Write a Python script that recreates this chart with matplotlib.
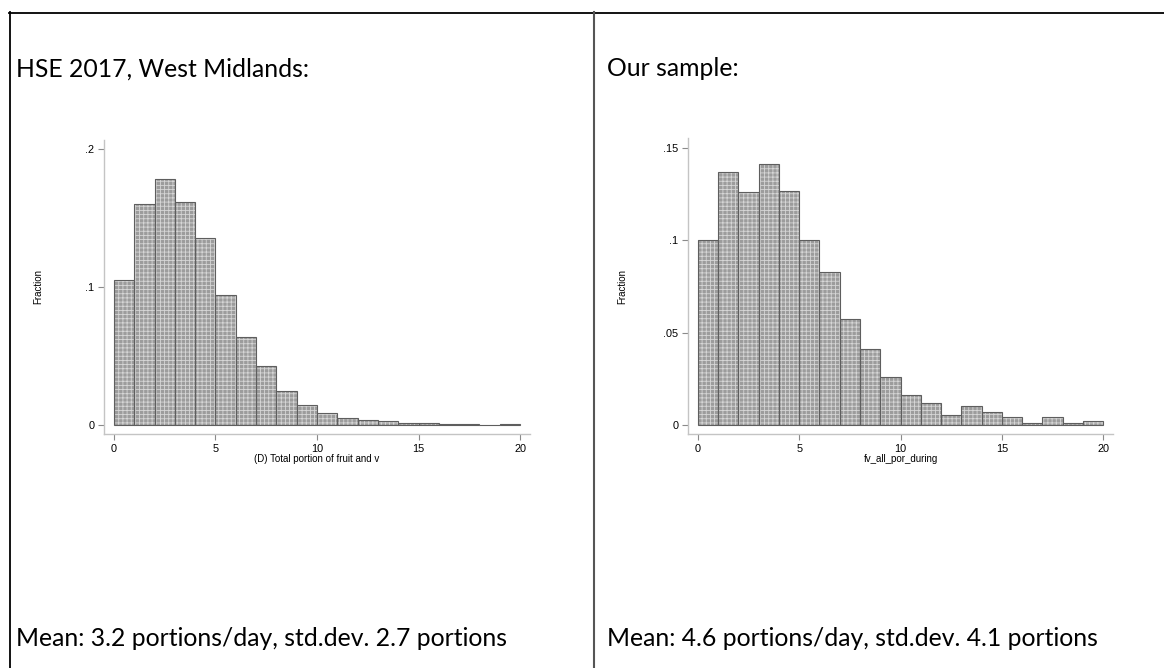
import matplotlib
matplotlib.use("Agg")
import matplotlib.pyplot as plt
from matplotlib.lines import Line2D
import numpy as np

# ---------------- data ----------------
bin_edges = list(range(0, 21))  # 20 bins of width 1 portion
hse_fraction = [0.105, 0.160, 0.178, 0.1616, 0.1355, 0.094, 0.064, 0.043, 0.025, 0.0145,
                0.0087, 0.005, 0.0036, 0.0029, 0.0017, 0.0012, 0.0006, 0.0005, 0.0003, 0.0006]
our_fraction = [0.100, 0.137, 0.126, 0.1413, 0.127, 0.100, 0.0827, 0.0572, 0.0413, 0.0262,
                0.0161, 0.0121, 0.0052, 0.0103, 0.0070, 0.0043, 0.0009, 0.0043, 0.0009, 0.0022]
x_ticks = [0, 5, 10, 15, 20]
x_tick_labels = ["0", "5", "10", "15", "20"]
hse_yticks = [0, 0.1, 0.2]
hse_ytick_labels = ["0", ".1", ".2"]
our_yticks = [0, 0.05, 0.10, 0.15]
our_ytick_labels = ["0", ".05", ".1", ".15"]
hse_xlabel = "(D) Total portion of fruit and v"
our_xlabel = "fv_all_por_during"
ylabel = "Fraction"
left_title = "HSE 2017, West Midlands:"
right_title = "Our sample:"
left_note = "Mean: 3.2 portions/day, std.dev. 2.7 portions"
right_note = "Mean: 4.6 portions/day, std.dev. 4.1 portions"

W, H = 1164, 668
plt.rcParams['hatch.linewidth'] = 0.6
fig = plt.figure(figsize=(W / 100, H / 100), dpi=100)
fig.patch.set_facecolor("white")

def px(x0, y0, x1, y1):
    # pixel box (top-left origin) -> figure fraction rect
    return [x0 / W, 1 - y1 / H, (x1 - x0) / W, (y1 - y0) / H]

def draw_hist(rect, values, yticks, ylabels, ylim, xlabel):
    ax = fig.add_axes(rect)
    edges = np.array(bin_edges)
    lefts = edges[:-1]
    widths = np.diff(edges)
    # fill with fine light grid texture
    ax.bar(lefts, values, width=widths, align="edge", color="#9c9c9c",
           edgecolor="#d6d6d6", linewidth=0, hatch="++++")
    # dark outlines
    ax.bar(lefts, values, width=widths, align="edge", fill=False,
           edgecolor="#5e5e5e", linewidth=0.8)
    ax.set_xlim(-0.49, 20.49)
    ax.set_ylim(*ylim)
    for s in ["top", "right"]:
        ax.spines[s].set_visible(False)
    for s in ["left", "bottom"]:
        ax.spines[s].set_color("#c4c4c4")
        ax.spines[s].set_linewidth(1.0)
    ax.set_xticks(x_ticks)
    ax.set_xticklabels(x_tick_labels)
    ax.set_yticks(yticks)
    ax.set_yticklabels(ylabels)
    ax.tick_params(axis="both", length=4.5, width=0.8, color="#8a8a8a",
                   labelsize=7.8, pad=2.5)
    for lab in ax.get_xticklabels() + ax.get_yticklabels():
        lab.set_fontfamily("Liberation Sans")
    ax.set_xlabel(xlabel, fontsize=7, family="Liberation Sans", labelpad=0)
    ax.set_ylabel(ylabel, fontsize=7, family="Liberation Sans")
    ax.yaxis.set_label_coords(-0.143, 0.5)
    return ax

draw_hist(px(104, 140, 530, 434), hse_fraction, hse_yticks, hse_ytick_labels,
          (-0.0065, 0.2065), hse_xlabel)
draw_hist(px(688, 138, 1113, 434), our_fraction, our_yticks, our_ytick_labels,
          (-0.0049, 0.1555), our_xlabel)

# table borders
def fline(x0, y0, x1, y1, color, lw):
    fig.add_artist(Line2D([x0 / W, x1 / W], [1 - y0 / H, 1 - y1 / H],
                          transform=fig.transFigure, color=color, linewidth=lw))

fline(9, 12.5, W, 12.5, "black", 1.3)
fline(9.5, 12, 9.5, H, "black", 1.3)
fline(593.5, 12, 593.5, H, "#555555", 1.5)

txt_kw = dict(fontsize=17.8, family="Lato", va="center", ha="left", color="black")
fig.text(16 / W, 1 - 69 / H, left_title, **txt_kw)
fig.text(607 / W, 1 - 69 / H, right_title, **txt_kw)
fig.text(16 / W, 1 - 638 / H, left_note, **txt_kw)
fig.text(607 / W, 1 - 638 / H, right_note, **txt_kw)

fig.savefig("out.png", dpi=100, facecolor="white")
